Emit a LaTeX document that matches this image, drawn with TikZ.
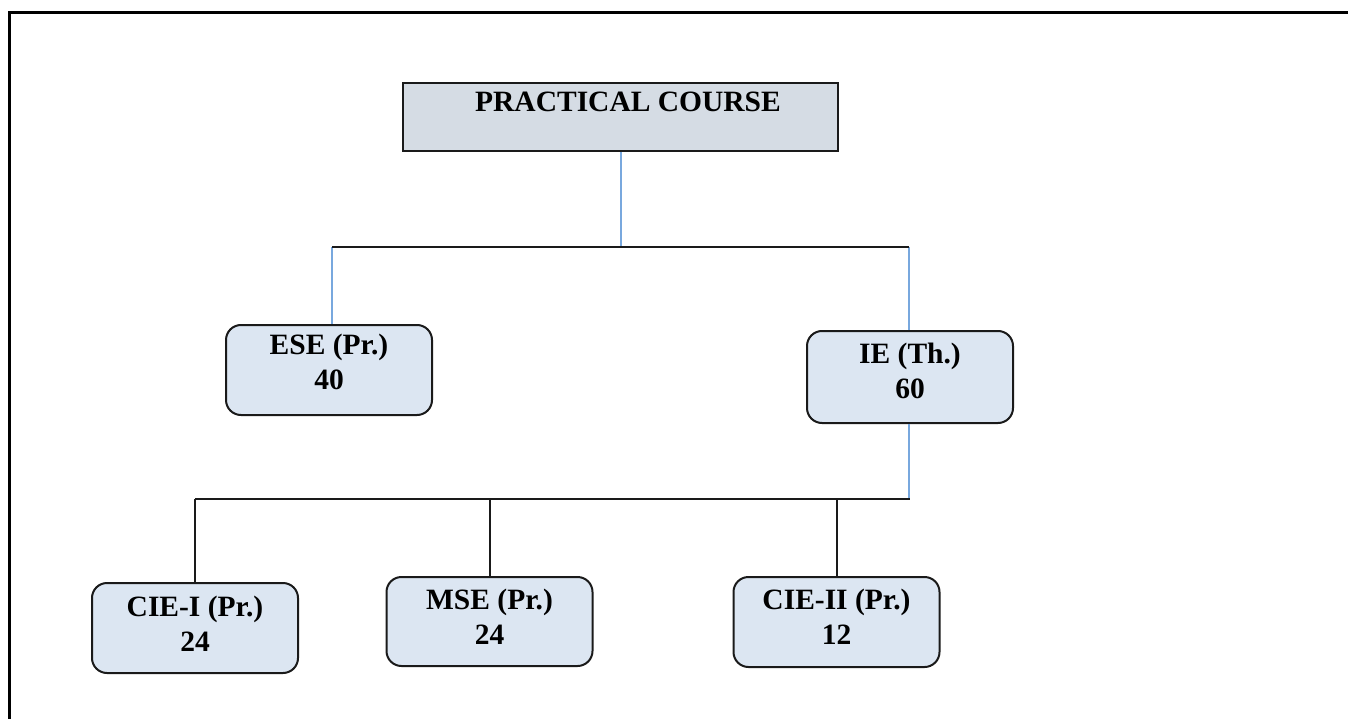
\documentclass[tikz,border=0pt]{standalone}
\usepackage{fontspec}
\setmainfont{Liberation Serif}
\definecolor{titlefill}{HTML}{D5DCE4}
\definecolor{boxfill}{HTML}{DCE6F2}
\definecolor{linkblue}{HTML}{78A8DE}
\definecolor{edge}{HTML}{1A1A1A}
\begin{document}
\begin{tikzpicture}[x=1pt,y=-1pt,
  lbl/.style={font=\fontsize{29.5}{35}\selectfont\bfseries, align=center, inner sep=0pt},
  titlebox/.style={draw=edge, line width=2pt, fill=titlefill, minimum width=435pt, minimum height=68pt, inner sep=0pt},
  cbox/.style={draw=edge, line width=2pt, fill=boxfill, rounded corners=15pt, minimum width=206pt, minimum height=90pt, inner sep=0pt},
  bluelink/.style={draw=linkblue, line width=2pt},
  blacklink/.style={draw=edge, line width=2pt}
]
\useasboundingbox (0,0) rectangle (1348,719);
\draw[line width=3pt, black] (9,719) -- (9,13) -- (1348,13);

\node[titlebox] (pc) at (620.5,117) {};
\node[lbl] (pctext) at (628,102) {PRACTICAL COURSE};

\node[cbox, label={[lbl, yshift=8.5pt]center:ESE (Pr.)\\40}] (ese) at (329,370) {};
\node[cbox, minimum height=92pt, label={[lbl, yshift=6.5pt]center:IE (Th.)\\60}] (ie) at (910,377) {};
\node[cbox, label={[lbl, yshift=4.5pt]center:CIE-I (Pr.)\\24}] (cie1) at (195,628) {};
\node[cbox, minimum height=89pt, label={[lbl, yshift=4.5pt]center:MSE (Pr.)\\24}] (mse) at (489.5,621.5) {};
\node[cbox, minimum height=90pt, label={[lbl, yshift=5.5pt]center:CIE-II (Pr.)\\12}] (cie2) at (836.5,622) {};

\coordinate (bar1) at (0,247);
\coordinate (bar2) at (0,499);

\draw[bluelink] (pc.south) -- (pc.south |- bar1);
\draw[bluelink] (ese.north -| 332,0) -- (332,247);
\draw[bluelink] (ie.north -| 909,0) -- (909,247);
\draw[blacklink] (332,247) -- (909,247);

\draw[bluelink] (ie.south -| 909,0) -- (909,499);
\draw[blacklink] (cie1.north |- bar2) -- (910,499);
\draw[blacklink] (cie1.north |- bar2) -- (cie1.north);
\draw[blacklink] (mse.north |- bar2) -- (mse.north);
\draw[blacklink] (cie2.north |- bar2) -- (cie2.north);
\end{tikzpicture}
\end{document}
